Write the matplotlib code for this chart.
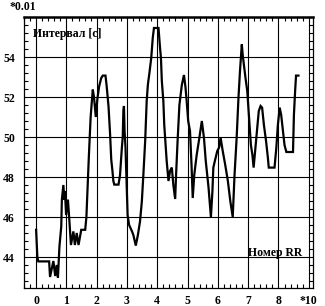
import matplotlib
matplotlib.use("Agg")
import matplotlib.pyplot as plt
from matplotlib.ticker import FixedLocator, MultipleLocator

# RR number (x, in units of 10) and interval (y, in units of 0.01 s)
rr_x = [0.0, 0.04, 0.07, 0.43, 0.46, 0.57, 0.63, 0.68, 0.72, 0.77, 0.83, 0.85, 0.9, 0.93,
        0.95, 0.99, 1.05, 1.09, 1.15, 1.23, 1.28, 1.34, 1.4, 1.49, 1.62, 1.66, 1.7, 1.74,
        1.8, 1.87, 1.91, 1.97, 2.02, 2.08, 2.15, 2.2, 2.29, 2.33, 2.39, 2.44, 2.48, 2.52,
        2.55, 2.58, 2.72, 2.77, 2.83, 2.86, 2.88, 2.9, 2.92, 2.95, 3.02, 3.07, 3.16, 3.21,
        3.29, 3.36, 3.43, 3.49, 3.54, 3.6, 3.65, 3.69, 3.74, 3.8, 3.85, 3.89, 4.04, 4.09,
        4.12, 4.15, 4.2, 4.23, 4.28, 4.31, 4.37, 4.42, 4.48, 4.53, 4.59, 4.62, 4.67, 4.73,
        4.81, 4.88, 4.93, 4.97, 5.02, 5.08, 5.13, 5.17, 5.22, 5.3, 5.39, 5.47, 5.54, 5.6,
        5.69, 5.77, 5.82, 5.85, 5.9, 5.98, 6.04, 6.09, 6.16, 6.24, 6.33, 6.41, 6.49, 6.55,
        6.62, 6.68, 6.73, 6.79, 6.82, 6.86, 6.91, 6.97, 7.0, 7.05, 7.09, 7.14, 7.18, 7.23,
        7.29, 7.35, 7.41, 7.46, 7.52, 7.59, 7.65, 7.68, 7.87, 7.93, 7.98, 8.04, 8.09, 8.15,
        8.2, 8.26, 8.48, 8.51, 8.55, 8.58, 8.66]
rr_y = [45.36, 44.03, 43.78, 43.78, 43.0, 43.8, 43.05, 43.6, 42.97, 44.53, 45.53, 46.87, 47.6, 46.87,
        47.3, 46.1, 46.87, 46.0, 44.6, 45.28, 44.6, 45.2, 44.6, 45.36, 45.36, 46.0, 47.5, 49.0,
        51.0, 52.37, 52.0, 51.0, 51.87, 52.53, 52.95, 53.07, 53.07, 52.53, 51.53, 50.2, 48.87, 48.3,
        47.8, 47.62, 47.62, 48.1, 49.45, 50.0, 51.3, 51.55, 50.3, 49.5, 46.1, 45.6, 45.3, 45.1,
        44.57, 45.1, 45.78, 46.78, 48.1, 49.8, 51.8, 52.63, 53.2, 53.95, 54.95, 55.45, 55.45, 54.47,
        53.97, 52.8, 51.8, 50.6, 49.47, 48.8, 47.8, 48.3, 48.47, 47.6, 46.9, 48.1, 49.8, 51.6,
        52.6, 53.1, 52.5, 51.8, 50.8, 50.3, 48.6, 46.95, 48.1, 49.1, 49.97, 50.8, 49.97, 48.8,
        47.5, 46.0, 47.3, 48.47, 48.8, 49.3, 49.47, 49.97, 49.3, 48.63, 47.8, 46.8, 46.0, 48.1,
        49.97, 51.97, 53.3, 54.63, 54.1, 53.6, 52.97, 52.3, 51.6, 50.5, 49.6, 49.1, 48.47, 49.3,
        50.3, 51.3, 51.55, 51.47, 50.6, 49.8, 48.97, 48.47, 48.47, 49.47, 50.6, 51.47, 51.1, 50.3,
        49.6, 49.25, 49.25, 51.1, 52.3, 53.07, 53.07]

x_ticks = [0, 1, 2, 3, 4, 5, 6, 7, 8, 9]
x_labels = ["0", "1", "2", "3", "4", "5", "6", "7", "8", "*10"]
y_ticks = [44, 46, 48, 50, 52, 54]
y_labels = ["44", "46", "48", "50", "52", "54"]

FONT = "Liberation Serif"

fig = plt.figure(figsize=(3.25, 3.06), dpi=100)
ax = fig.add_axes([24 / 325, 1 - 288 / 306, 289.3 / 325, 271 / 306])

ax.plot(rr_x, rr_y, color="black", lw=1.6, solid_joinstyle="miter")

ax.set_xlim(-0.40, 9.15)
ax.set_ylim(42.45, 56.0)

ax.xaxis.set_major_locator(FixedLocator(x_ticks))
ax.set_xticklabels(x_labels)
ax.yaxis.set_major_locator(FixedLocator(y_ticks))
ax.set_yticklabels(y_labels)
ax.xaxis.set_minor_locator(MultipleLocator(0.2))
ax.yaxis.set_minor_locator(MultipleLocator(0.4))

ax.grid(True, which="major", color="black", lw=0.8)
ax.tick_params(which="both", direction="in", top=True, right=True,
               color="black", width=0.8)
ax.tick_params(which="major", length=0)
ax.tick_params(which="minor", length=3.2)
ax.tick_params(axis="x", which="major", pad=5)
ax.tick_params(axis="y", which="major", pad=6.5)

for lbl in ax.get_xticklabels() + ax.get_yticklabels():
    lbl.set_fontfamily(FONT)
    lbl.set_fontweight("bold")
    lbl.set_fontsize(8.5)

for s in ax.spines.values():
    s.set_linewidth(0.9)
ax.spines["top"].set_linewidth(1.8)

ax.text(0.031, 0.939, "Интервал [c]", transform=ax.transAxes, ha="left", va="center",
        fontfamily=FONT, fontweight="bold", fontsize=8.5)
ax.text(0.774, 0.129, "Номер RR", transform=ax.transAxes, ha="left", va="center",
        fontfamily=FONT, fontweight="bold", fontsize=8.5)
fig.text(10 / 325, 1 - 7 / 306, "*0.01", ha="left", va="center",
         fontfamily=FONT, fontweight="bold", fontsize=8.5)

fig.savefig("out.png", dpi=100)
